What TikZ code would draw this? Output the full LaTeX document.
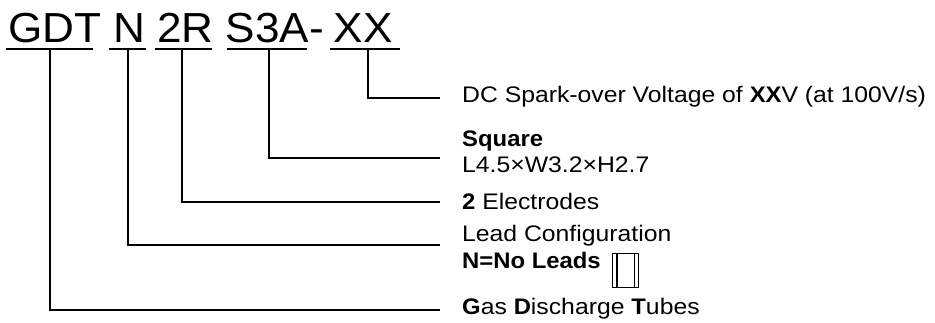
\documentclass[tikz,border=0pt]{standalone}
\usepackage{fontspec}
\setmainfont[FakeStretch=1.1,BoldFeatures={FakeStretch=1.06}]{Liberation Sans}
\newfontfamily\titlefont[FakeStretch=1.05]{Liberation Sans}
\begin{document}
\begin{tikzpicture}[x=1pt,y=-1pt,
  wire/.style={line width=1.6pt},
  lbl/.style={anchor=base west, inner sep=0pt, font=\fontsize{22.5}{27}\selectfont},
  ttl/.style={anchor=base west, inner sep=0pt, font=\titlefont\fontsize{42}{50}\selectfont},
  pkg/.style={draw, line width=1.1pt, inner sep=0pt, minimum width=26pt, minimum height=34pt, anchor=north west}]
\useasboundingbox (0,0) rectangle (935,323);
% title groups
\node[ttl] (gdt) at (8,42.5) {GDT};
\node[ttl] (n)   at (113,42.5) {N};
\node[ttl] (r2)  at (157,42.5) {2R};
\node[ttl] (s3a) at (225.6,42.5) {S3A-};
\node[ttl] (xx)  at (333.6,42.5) {XX};
% underlines
\draw[wire] (6,49) -- (93,49);
\draw[wire] (109,49) -- (146,49);
\draw[wire] (155,49) -- (212,49);
\draw[wire] (227,49) -- (307,49);
\draw[wire] (330,49) -- (400,49);
\coordinate (u1) at (50,49);
\coordinate (u2) at (128,49);
\coordinate (u3) at (182,49);
\coordinate (u4) at (269,49);
\coordinate (u5) at (368,49);
% labels
\node[lbl] (l5)  at (462,103) {DC Spark-over Voltage of \textbf{XX}V (at 100V/s)};
\node[lbl] (l4a) at (462,147) {\textbf{Square}};
\node[lbl] (l4b) at (462,173) {L4.5×W3.2×H2.7};
\node[lbl] (l3)  at (462,210) {\textbf{2} Electrodes};
\node[lbl] (l2a) at (462,242) {Lead Configuration};
\node[lbl] (l2b) at (462,269) {\textbf{N=No Leads}};
\node[lbl] (l1)  at (462,315) {\textbf{G}as \textbf{D}ischarge \textbf{T}ubes};
% package symbol
\node[pkg] (box) at (612,253) {};
\draw[line width=1.1pt] ([xshift=5pt]box.north west) -- ([xshift=5pt]box.south west);
\draw[line width=1.1pt] ([xshift=-5pt]box.north east) -- ([xshift=-5pt]box.south east);
% connector ends
\coordinate (e5) at (440,98);
\coordinate (e4) at (440,158);
\coordinate (e3) at (440,202);
\coordinate (e2) at (440,245);
\coordinate (e1) at (440,310);
\draw[wire] (u5) |- (e5);
\draw[wire] (u4) |- (e4);
\draw[wire] (u3) |- (e3);
\draw[wire] (u2) |- (e2);
\draw[wire] (u1) |- (e1);
\end{tikzpicture}
\end{document}
